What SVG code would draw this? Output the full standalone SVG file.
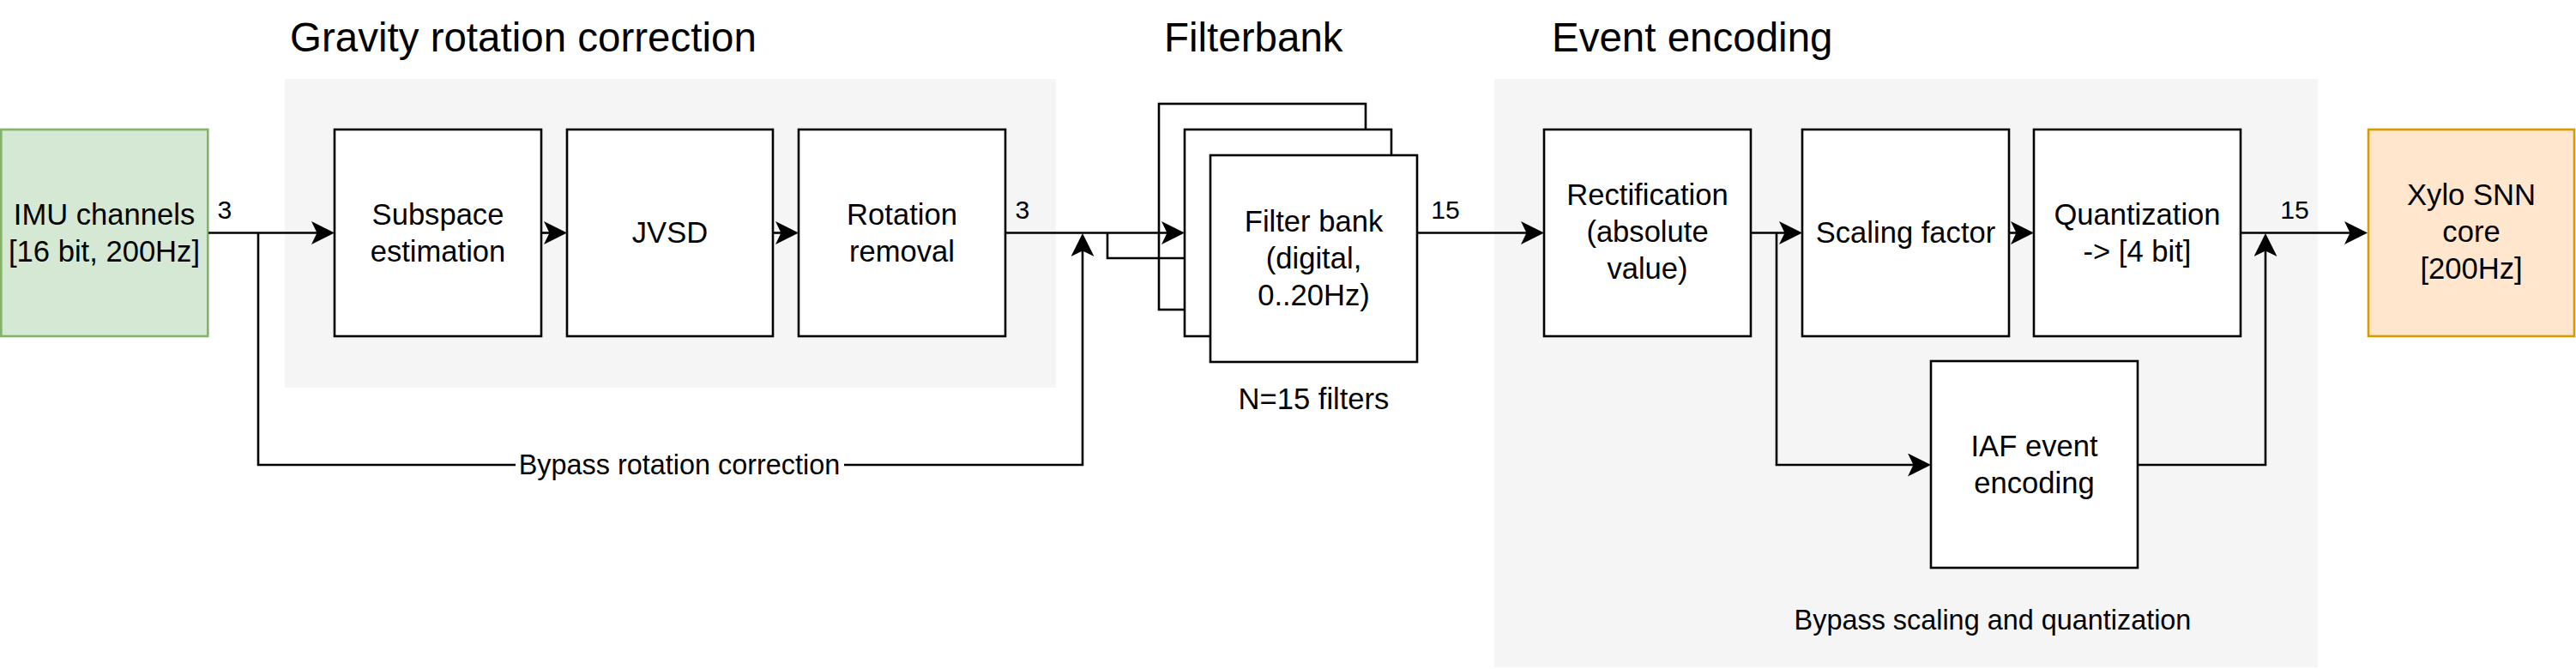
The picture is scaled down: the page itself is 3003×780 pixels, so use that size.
<svg xmlns="http://www.w3.org/2000/svg" width="3003" height="780" viewBox="0 0 3003 780">
<style>
text{font-family:"Liberation Sans",Arial,Helvetica,sans-serif;fill:#000}
.title{font-size:47.5px}
.node{font-size:34.6px;text-anchor:middle}
.lbl{font-size:30.2px;text-anchor:middle}
.note{font-size:32.4px;text-anchor:middle}
.box{fill:#fff;stroke:#000;stroke-width:2.6}
.grp{fill:#f5f5f5;stroke:none}
.edge{fill:none;stroke:#000;stroke-width:2.6}
.arr{marker-end:url(#arrow)}
</style>
<defs>
<marker id="arrow" markerUnits="userSpaceOnUse" viewBox="0 0 28 28" markerWidth="28" markerHeight="28" refX="17" refY="13.5" orient="auto">
<path d="M0,0 L27,13.5 L0,27 L6.5,13.5 Z" fill="#000"/>
</marker>
</defs>
<rect width="3003" height="780" fill="#fff"/>
<g id="group-gravity">
<rect class="grp" x="332" y="92" width="899" height="360"/>
<text class="title" x="338" y="60">Gravity rotation correction</text>
</g>
<g id="group-filterbank">
<text class="title" x="1357" y="60">Filterbank</text>
</g>
<g id="group-event">
<rect class="grp" x="1742" y="92" width="960" height="686"/>
<text class="title" x="1809" y="60">Event encoding</text>
</g>
<g id="node-imu">
<rect x="1.3" y="151" width="241" height="241" fill="#d5e8d4" stroke="#82b366" stroke-width="2.6"/>
<text class="node" x="121.5" y="261.5">IMU channels</text>
<text class="node" x="121.5" y="304.5">[16 bit, 200Hz]</text>
</g>
<g id="node-subspace">
<rect class="box" x="390" y="151" width="241" height="241"/>
<text class="node" x="510.5" y="261.5">Subspace</text>
<text class="node" x="510.5" y="304.5">estimation</text>
</g>
<g id="node-jvsd">
<rect class="box" x="661" y="151" width="240" height="241"/>
<text class="node" x="781" y="283">JVSD</text>
</g>
<g id="node-rotation">
<rect class="box" x="931" y="151" width="241" height="241"/>
<text class="node" x="1051.5" y="261.5">Rotation</text>
<text class="node" x="1051.5" y="304.5">removal</text>
</g>
<g id="node-filterbank">
<rect class="box" x="1351" y="121" width="241" height="240"/>
<rect class="box" x="1381" y="151" width="241" height="241"/>
<rect class="box" x="1411" y="181" width="241" height="241"/>
<text class="node" x="1531.5" y="270">Filter bank</text>
<text class="node" x="1531.5" y="313">(digital,</text>
<text class="node" x="1531.5" y="356">0..20Hz)</text>
</g>
<g id="node-nfilters">
<text class="node" x="1531.5" y="477">N=15 filters</text>
</g>
<g id="node-rectification">
<rect class="box" x="1800" y="151" width="241" height="241"/>
<text class="node" x="1920.5" y="239">Rectification</text>
<text class="node" x="1920.5" y="282">(absolute</text>
<text class="node" x="1920.5" y="325">value)</text>
</g>
<g id="node-scaling">
<rect class="box" x="2101" y="151" width="241" height="241"/>
<text class="node" x="2221.5" y="283">Scaling factor</text>
</g>
<g id="node-quantization">
<rect class="box" x="2371" y="151" width="241" height="241"/>
<text class="node" x="2491.5" y="261.5">Quantization</text>
<text class="node" x="2491.5" y="304.5">-&gt; [4 bit]</text>
</g>
<g id="node-iaf">
<rect class="box" x="2251" y="421" width="241" height="241"/>
<text class="node" x="2371.5" y="531.5">IAF event</text>
<text class="node" x="2371.5" y="574.5">encoding</text>
</g>
<g id="node-xylo">
<rect x="2761" y="151" width="240" height="241" fill="#ffe6cc" stroke="#d79b00" stroke-width="2.6"/>
<text class="node" x="2881" y="239">Xylo SNN</text>
<text class="node" x="2881" y="282">core</text>
<text class="node" x="2881" y="325">[200Hz]</text>
</g>
<g id="node-bypass-sq">
<text class="note" x="2323" y="734">Bypass scaling and quantization</text>
</g>
<g id="connectors">
<path class="edge arr" d="M243,271.5 H380"/>
<path class="edge arr" d="M301,271.5 V542 H1262 V282"/>
<path class="edge arr" d="M631,271.5 H651"/>
<path class="edge arr" d="M901,271.5 H921"/>
<path class="edge arr" d="M1172,271.5 H1371"/>
<path class="edge" d="M1291,271.5 V301 H1381"/>
<path class="edge arr" d="M1652,271.5 H1790"/>
<path class="edge arr" d="M2041,271.5 H2091"/>
<path class="edge arr" d="M2071,271.5 V542 H2241"/>
<path class="edge arr" d="M2342,271.5 H2361"/>
<path class="edge arr" d="M2612,271.5 H2750"/>
<path class="edge arr" d="M2492,542 H2641 V282"/>
<text class="lbl" x="262" y="255">3</text>
<text class="lbl" x="1192" y="255">3</text>
<text class="lbl" x="1685" y="255">15</text>
<text class="lbl" x="2675" y="255">15</text>
<rect x="601" y="526" width="383" height="34" fill="#fff"/>
<text class="note" x="792" y="553">Bypass rotation correction</text>
</g>
</svg>
